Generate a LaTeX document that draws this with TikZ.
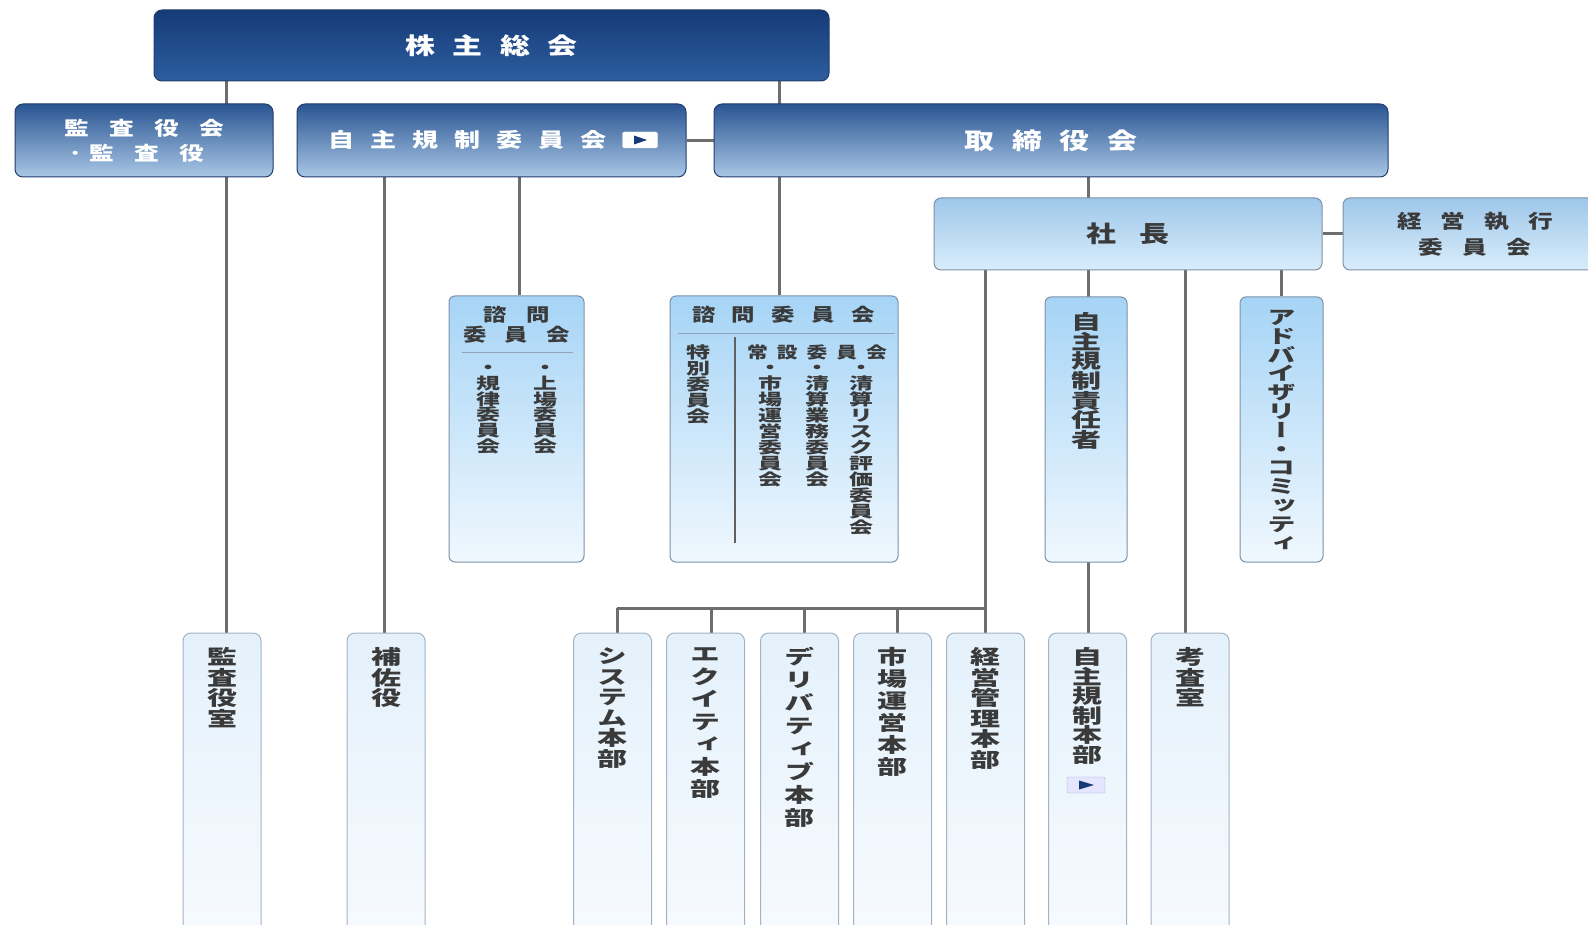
\documentclass[tikz,border=0pt]{standalone}
\usepackage{fontspec}
\usetikzlibrary{backgrounds}
\newfontfamily\jph[FakeStretch=1.3]{Noto Sans CJK JP}
\newfontfamily\jpv[FakeStretch=1.5,RawFeature=+vert]{Noto Sans CJK JP}
\definecolor{navyT}{HTML}{163A78}
\definecolor{navyB}{HTML}{2D5E9F}
\definecolor{midT}{HTML}{2A5592}
\definecolor{midB}{HTML}{A9C7E6}
\definecolor{ltT}{HTML}{9EC7EA}
\definecolor{ltB}{HTML}{D9EDFB}
\definecolor{paleT}{HTML}{A6D4F6}
\definecolor{paleB}{HTML}{F0F8FE}
\definecolor{botT}{HTML}{E4F1FB}
\definecolor{botB}{HTML}{F8FBFF}
\definecolor{edgeD}{HTML}{203D6C}
\definecolor{edgeL}{HTML}{7E91A7}
\definecolor{edgeP}{HTML}{A3B3C4}
\definecolor{wirec}{HTML}{6E6E6E}
\definecolor{txt}{HTML}{3A3A3A}
\definecolor{sepc}{HTML}{8FA4B8}
\def\myend{}
\newdimen\lsgap
\def\ls#1#2{\lsgap=#1\relax\lsA#2\myend}
\def\lsA#1{\ifx#1\myend\else#1\expandafter\lsB\fi}
\def\lsB#1{\ifx#1\myend\else\kern\lsgap#1\expandafter\lsB\fi}
\newcommand\vt[2]{\vbox{\baselineskip=#1\relax\lineskiplimit=-\maxdimen\lineskip=0pt\vtA#2\myend}}
\def\vtA#1{\ifx#1\myend\else\hbox{#1}\expandafter\vtA\fi}
\begin{document}
\begin{tikzpicture}[x=1pt,y=-1pt,
  wire/.style={draw=wirec, line width=3pt},
  darkbox/.style={draw=edgeD, line width=1pt, rounded corners=8pt, top color=navyT, bottom color=navyB, inner sep=0pt, text=white},
  midbox/.style={draw=edgeD, line width=1pt, rounded corners=8pt, top color=midT, bottom color=midB, inner sep=0pt, text=white},
  ltbox/.style={draw=edgeL, line width=1pt, rounded corners=7pt, top color=ltT, bottom color=ltB, inner sep=0pt, text=txt},
  palebox/.style={draw=edgeL, line width=1pt, rounded corners=6pt, top color=paleT, bottom color=paleB, inner sep=0pt},
  botbox/.style={draw=edgeP, line width=1pt, rounded corners=8pt, top color=botT, bottom color=botB, inner sep=0pt, minimum width=78pt, minimum height=327pt},
  hfont/.style={font={\jph\bfseries\fontsize{#1}{#1}\selectfont}},
  hfontL/.style 2 args={font={\jph\bfseries\fontsize{#1}{#2}\selectfont}},
  vfont/.style={font={\jpv\bfseries\fontsize{#1}{#1}\selectfont}},
  vtxt/.style={inner sep=0pt, anchor=north, text=txt},
  htxt/.style={inner sep=0pt, text=txt},
  sep/.style={draw=sepc, line width=1pt},
  iconbox/.style={rounded corners=2pt, minimum width=35pt, minimum height=16pt, inner sep=0pt},
  tri/.style={fill=navyT}
]
\useasboundingbox (0,0) rectangle (1588,925);
\clip (0,0) rectangle (1588,925);

% ---- top level ----
\node[darkbox, hfont=23, minimum width=675pt, minimum height=71pt] (kabu) at (491.5,45.5) {\ls{17.5pt}{株主総会}};
\node[midbox, hfontL={19}{25}, align=center, minimum width=258pt, minimum height=73pt] (kansa) at (144,140.5)
  {\ls{20.4pt}{監査役会}\\･\kern8pt\ls{20.4pt}{監査役}\kern14pt};
\node[midbox, minimum width=389pt, minimum height=73pt] (jishu) at (491.5,140.5) {};
\node[htxt, hfont=20, text=white] (jishuT) at (467.5,140) {\ls{16pt}{自主規制委員会}};
\node[iconbox, fill=white, draw=white!80!gray] (ic1) at (640,140) {};
\fill[tri] ([xshift=-6pt,yshift=-4.5pt]ic1.center) -- ([xshift=7pt]ic1.center) -- ([xshift=-6pt,yshift=4.5pt]ic1.center) -- cycle;
\node[midbox, hfont=23, minimum width=674pt, minimum height=73pt] (tori) at (1051,140.5) {\ls{17.5pt}{取締役会}};

% ---- second level ----
\node[ltbox, hfont=23, minimum width=388pt, minimum height=72pt] (shacho) at (1128,234) {\ls{23pt}{社長}};
\node[ltbox, hfontL={19}{26}, align=center, minimum width=264pt, minimum height=72pt] (keiei) at (1475,234)
  {\ls{19pt}{経営執行}\\\ls{19pt}{委員会}};

% ---- middle boxes ----
\node[palebox, minimum width=135pt, minimum height=266pt] (shimonA) at (516.5,429) {};
\node[htxt, hfontL={18}{20}, align=center] (shimonAT) at (516.5,325)
  {\ls{20pt}{諮問}\\\ls{18.4pt}{委員会}};
\draw[sep] (462,353) -- (573,353);
\node[vtxt, vfont=16] (joujou) at (545,365) {\vt{15.8pt}{・上場委員会}};
\node[vtxt, vfont=16] (kiritsu) at (488,365) {\vt{15.8pt}{・規律委員会}};

\node[palebox, minimum width=228pt, minimum height=266pt] (shimonB) at (784,429) {};
\node[htxt, hfont=18] (shimonBT) at (783.5,315) {\ls{16.5pt}{諮問委員会}};
\draw[sep] (678,334) -- (895,334);
\draw[draw=txt!80, line width=1.3pt] (735,337) -- (735,543);
\node[vtxt, vfont=16] (tokubetsu) at (698,345) {\vt{16pt}{特別委員会}};
\node[htxt, hfont=16] (jousetsu) at (817,352) {\ls{9pt}{常設委員会}};
\node[vtxt, vfont=16] (shijou) at (770,365) {\vt{16pt}{・市場運営委員会}};
\node[vtxt, vfont=16] (seisanG) at (817,365) {\vt{16pt}{・清算業務委員会}};
\node[vtxt, vfont=16] (seisanR) at (861,365) {\vt{16pt}{・清算リスク評価委員会}};

\node[palebox, minimum width=82pt, minimum height=265pt] (jsek) at (1086,429.5) {};
\node[vtxt, vfont=20] (jsekT) at (1086,312) {\vt{19.7pt}{自主規制責任者}};
\node[palebox, minimum width=83pt, minimum height=265pt] (adv) at (1281.5,429.5) {};
\node[vtxt, vfont=19] (advT) at (1282,310) {\vt{18.8pt}{アドバイザリー・コミッティ}};

% ---- bottom boxes ----
\node[botbox] (kshitsu) at (222,796.5) {};
\node[botbox] (hosa) at (386,796.5) {};
\node[botbox] (sys) at (612.5,796.5) {};
\node[botbox] (eq) at (705.5,796.5) {};
\node[botbox] (der) at (799.5,796.5) {};
\node[botbox] (ichiba) at (892.5,796.5) {};
\node[botbox] (keiri) at (985.5,796.5) {};
\node[botbox] (jhonbu) at (1087.5,796.5) {};
\node[botbox] (kousa) at (1190,796.5) {};

\node[vtxt, vfont=20] at ([yshift=-15pt]kshitsu.north) {\vt{20.5pt}{監査役室}};
\node[vtxt, vfont=20] at ([yshift=-15pt]hosa.north) {\vt{20.5pt}{補佐役}};
\node[vtxt, vfont=20] at ([yshift=-15pt]sys.north) {\vt{20.5pt}{システム本部}};
\node[vtxt, vfont=20] at ([yshift=-15pt]eq.north) {\vt{22.5pt}{エクイティ本部}};
\node[vtxt, vfont=20] at ([yshift=-15pt]der.north) {\vt{23pt}{デリバティブ本部}};
\node[vtxt, vfont=20] at ([yshift=-15pt]ichiba.north) {\vt{22pt}{市場運営本部}};
\node[vtxt, vfont=20] at ([yshift=-15pt]keiri.north) {\vt{20.5pt}{経営管理本部}};
\node[vtxt, vfont=20] (jhonbuT) at ([yshift=-15pt]jhonbu.north) {\vt{19.5pt}{自主規制本部}};
\node[vtxt, vfont=20] at ([yshift=-15pt]kousa.north) {\vt{20.5pt}{考査室}};
\node[iconbox, fill=white!90!blue, draw=edgeP, minimum width=38pt] (ic2) at (1086,785) {};
\fill[tri] ([xshift=-7pt,yshift=-4.5pt]ic2.center) -- ([xshift=8pt]ic2.center) -- ([xshift=-7pt,yshift=4.5pt]ic2.center) -- cycle;

% ---- connectors ----
\coordinate (xA) at (226,0);
\coordinate (xB) at (384,0);
\coordinate (xC) at (519,0);
\coordinate (xD) at (779,0);
\coordinate (xE) at (1088,0);
\coordinate (xG) at (1185,0);
\coordinate (bus) at (0,608);
\begin{scope}[on background layer]
\fill[white] (0,0) rectangle (1588,925);
\draw[wire] (kabu.south -| xA) -- (kshitsu.north -| xA);
\draw[wire] (jishu.south -| xB) -- (hosa.north -| xB);
\draw[wire] (jishu.south -| xC) -- (shimonA.north -| xC);
\draw[wire] (kabu.south -| xD) -- (shimonB.north -| xD);
\draw[wire] (jishu.east) -- (tori.west);
\draw[wire] (tori.south -| xE) -- (jhonbu.north -| xE);
\draw[wire] (shacho.east) -- (keiei.west);
\draw[wire] (shacho.south -| keiri.north) -- (keiri.north);
\draw[wire] ([xshift=4.5pt]sys.north |- bus) -- (keiri.north |- bus);
\draw[wire] ([xshift=4.5pt]sys.north |- bus) -- ([xshift=4.5pt]sys.north);
\draw[wire] ([xshift=5.5pt]eq.north |- bus) -- ([xshift=5.5pt]eq.north);
\draw[wire] ([xshift=4.5pt]der.north |- bus) -- ([xshift=4.5pt]der.north);
\draw[wire] ([xshift=4.5pt]ichiba.north |- bus) -- ([xshift=4.5pt]ichiba.north);
\draw[wire] (shacho.south -| xG) -- (kousa.north -| xG);
\draw[wire] (shacho.south -| adv.north) -- (adv.north);
\end{scope}
\end{tikzpicture}
\end{document}
